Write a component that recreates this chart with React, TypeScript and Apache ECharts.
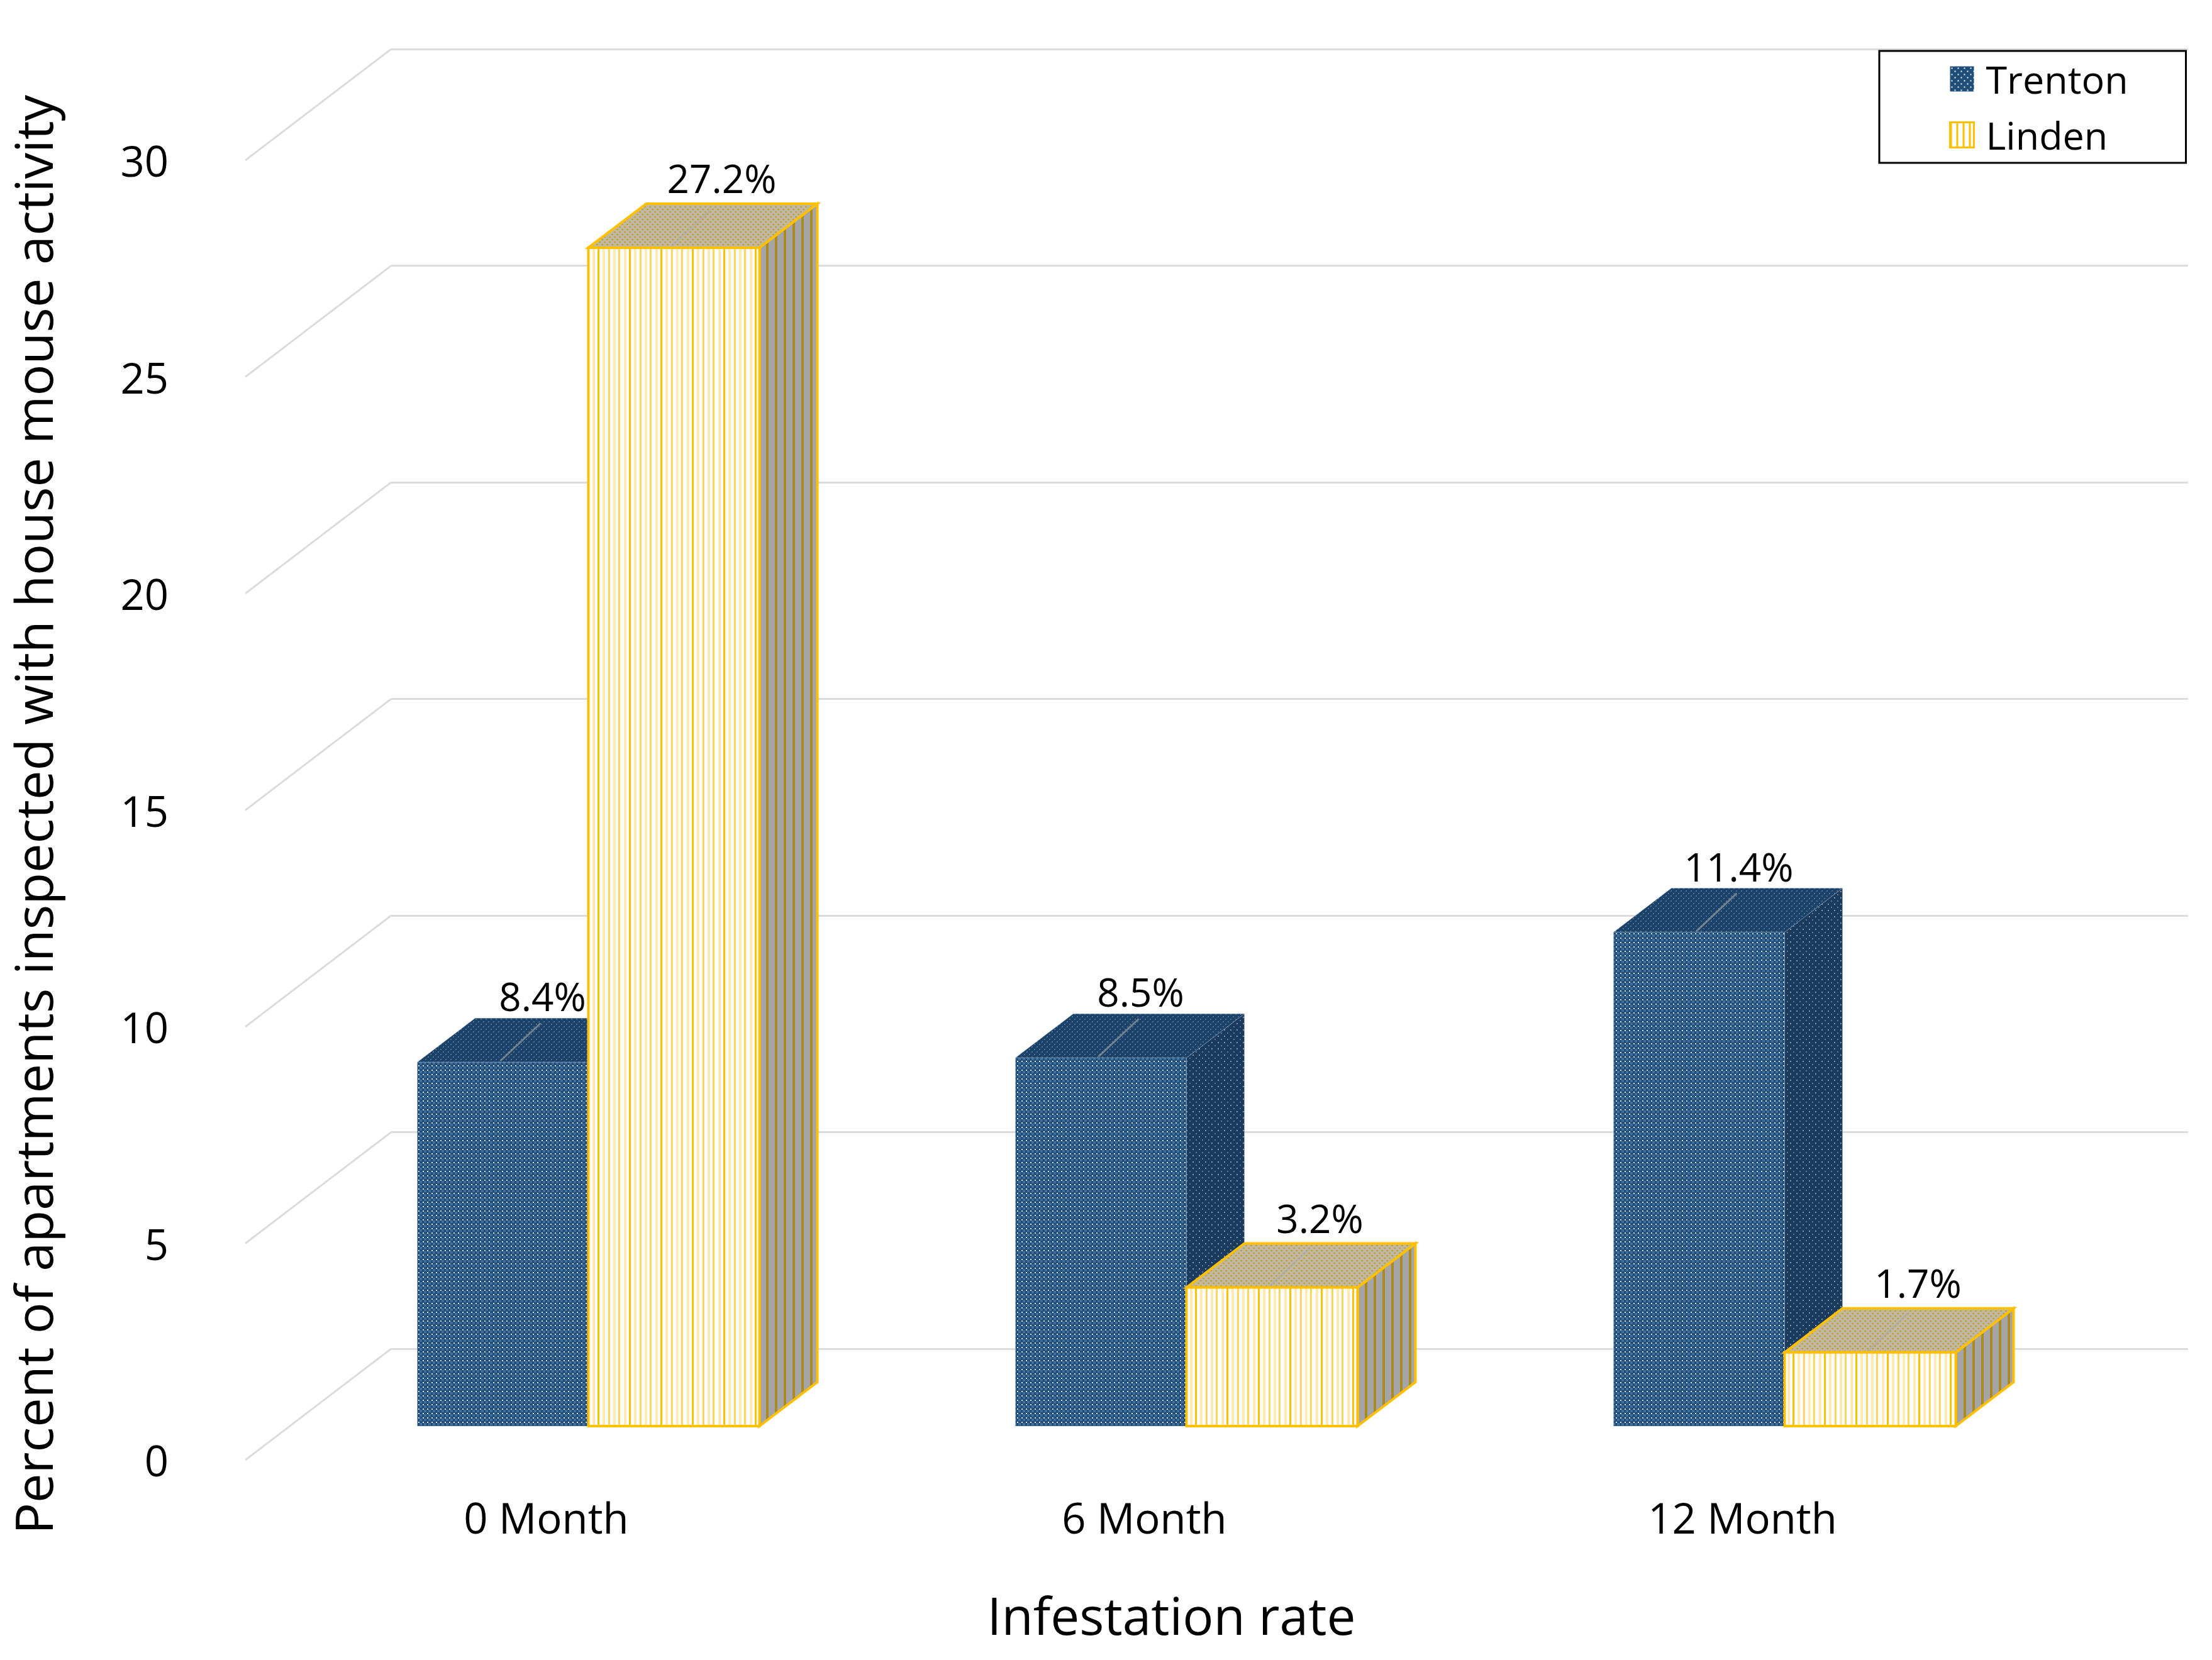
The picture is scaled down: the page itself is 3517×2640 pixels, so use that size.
import React, { useEffect, useRef } from "react";
import * as echarts from "echarts";

const categories = ["0 Month", "6 Month", "12 Month"];
const trenton = [8.4, 8.5, 11.4];
const linden = [27.2, 3.2, 1.7];
const yTicks = [0, 5, 10, 15, 20, 25, 30];
const xTitle = "Infestation rate";
const yTitle = "Percent of apartments inspected with house mouse activity";

const FONT = '"Open Sans", "Noto Sans", sans-serif';
const BAR_W = 272;
const DX = 92;
const DY = 70;

function tile(w: number, h: number, draw: (c: CanvasRenderingContext2D) => void) {
  const cv = document.createElement("canvas");
  cv.width = w;
  cv.height = h;
  const c = cv.getContext("2d")!;
  draw(c);
  return { image: cv, repeat: "repeat", imageWidth: w, imageHeight: h } as any;
}

function buildPatterns() {
  const blueFront = tile(14, 14, (c) => {
    c.fillStyle = "#1F4E7C";
    c.fillRect(0, 0, 14, 14);
    c.fillStyle = "#426E97";
    for (let y = 0; y < 14; y += 7) {
      for (let x = 0; x < 14; x += 7) {
        c.fillRect(x + 2, y + 2, 4, 4);
      }
    }
    c.fillStyle = "#DCE6F0";
    for (let y = 0; y < 14; y += 7) {
      for (let x = 0; x < 14; x += 7) {
        c.fillRect(x, y, 2, 2);
      }
    }
  });
  const blueTop = tile(8, 8, (c) => {
    c.fillStyle = "#1B4268";
    c.fillRect(0, 0, 8, 8);
    c.fillStyle = "#4F7090";
    c.fillRect(0, 0, 2, 2);
    c.fillRect(4, 4, 2, 2);
  });
  const blueSide = tile(10, 10, (c) => {
    c.fillStyle = "#1A3B5E";
    c.fillRect(0, 0, 10, 10);
    c.fillStyle = "#5D7890";
    c.fillRect(1, 2, 2, 2);
    c.fillStyle = "#8495A6";
    c.fillRect(6, 7, 2, 2);
  });
  const goldFront = tile(50, 10, (c) => {
    c.fillStyle = "#FFFFFF";
    c.fillRect(0, 0, 50, 10);
    const cols = ["#FFC000", "#FFEBB0", "#FFD65C", "#FFEBB0", "#FFD65C", "#FFEBB0"];
    cols.forEach((col, i) => {
      c.fillStyle = col;
      c.fillRect(Math.round(i * 8.33), 0, i % 2 ? 4 : 3, 10);
    });
  });
  const goldTop = tile(8, 8, (c) => {
    c.fillStyle = "#BFB8A2";
    c.fillRect(0, 0, 8, 8);
    c.fillStyle = "#C8A032";
    c.fillRect(0, 0, 3, 2);
    c.fillRect(4, 4, 3, 2);
  });
  const goldSide = tile(14, 10, (c) => {
    c.fillStyle = "#A5A5A5";
    c.fillRect(0, 0, 14, 10);
    c.fillStyle = "#AA8A26";
    c.fillRect(0, 0, 4, 10);
  });
  const legendBlue = tile(10, 10, (c) => {
    c.fillStyle = "#1F4E79";
    c.fillRect(0, 0, 10, 10);
    c.fillStyle = "#FFFFFF";
    c.fillRect(2, 2, 2, 2);
    c.fillRect(7, 7, 2, 2);
  });
  const legendGold = tile(10, 10, (c) => {
    c.fillStyle = "#FFFFFF";
    c.fillRect(0, 0, 10, 10);
    c.fillStyle = "#FFC000";
    c.fillRect(0, 0, 3, 10);
  });
  return { blueFront, blueTop, blueSide, goldFront, goldTop, goldSide, legendBlue, legendGold };
}

function barSeries(
  name: string,
  values: number[],
  offset: number,
  front: any,
  top: any,
  side: any,
  stroke: string,
  strokeWidth: number,
  labelDx: number,
  labelDy: number
) {
  return {
    name,
    type: "custom",
    xAxisIndex: 1,
    yAxisIndex: 1,
    coordinateSystem: "cartesian2d",
    silent: true,
    z: 5,
    itemStyle: { color: front, borderColor: stroke },
    encode: { x: 0, y: 1 },
    data: values.map((v, i) => [i, v]),
    renderItem: (_p: any, api: any) => {
      const idx = api.value(0);
      const val = api.value(1);
      const [cx, yTop] = api.coord([idx, val]);
      const [, yBase] = api.coord([idx, 0]);
      const x0 = cx + offset;
      const x1 = x0 + BAR_W;
      const line = { stroke, lineWidth: strokeWidth };
      return {
        type: "group",
        children: [
          {
            type: "polygon",
            shape: { points: [[x1, yBase], [x1 + DX, yBase - DY], [x1 + DX, yTop - DY], [x1, yTop]] },
            style: { fill: side, ...line },
          },
          {
            type: "polygon",
            shape: { points: [[x0, yTop], [x0 + DX, yTop - DY], [x1 + DX, yTop - DY], [x1, yTop]] },
            style: { fill: top, ...line },
          },
          {
            type: "line",
            shape: { x1: x0 + BAR_W / 2 - 4, y1: yTop - 2, x2: x0 + BAR_W / 2 + 60, y2: yTop - 62 },
            style: { stroke: "rgba(170,170,170,0.6)", lineWidth: 3 },
          },
          {
            type: "rect",
            shape: { x: x0, y: yTop, width: BAR_W, height: yBase - yTop },
            style: { fill: front, ...line },
          },
          {
            type: "text",
            z2: 50,
            style: {
              text: `${val.toFixed(1)}%`,
              x: x0 + BAR_W / 2 + labelDx,
              y: yTop + labelDy,
              fill: "#000000",
              font: `62px ${FONT}`,
              align: "center",
              verticalAlign: "middle",
            },
          },
        ],
      };
    },
  };
}

export default function App() {
  const ref = useRef<HTMLDivElement>(null);
  useEffect(() => {
    document.body.style.margin = "0";
    const chart = echarts.init(ref.current!, undefined, { renderer: "svg" });
    const p = buildPatterns();
    const hiddenAxis = { show: false };
    chart.setOption({
      animation: false,
      backgroundColor: "#FFFFFF",
      textStyle: { fontFamily: FONT },
      grid: [
        { left: 393, width: 2853, top: 255, height: 2067, outerBoundsMode: "none" },
        { left: 462, width: 2853, top: 201, height: 2067, outerBoundsMode: "none" },
        { left: 622, width: 2857, top: 78, height: 2067, outerBoundsMode: "none" },
      ],
      legend: {
        orient: "vertical",
        left: 2988,
        top: 81,
        padding: [14, 92, 14, 111],
        itemGap: 28,
        itemWidth: 38,
        itemHeight: 40,
        itemStyle: { borderWidth: 0 },
        backgroundColor: "#FFFFFF",
        borderColor: "#000000",
        borderWidth: 3,
        textStyle: { fontSize: 61, color: "#000000", fontFamily: FONT, padding: [0, 0, 0, 14] },
        data: [
          { name: "Trenton", icon: "rect", itemStyle: { color: p.legendBlue, borderWidth: 0 } },
          { name: "Linden", icon: "rect", itemStyle: { color: p.legendGold, borderColor: "#FFC000", borderWidth: 3 } },
        ],
      },
      xAxis: [
        {
          gridIndex: 0,
          type: "category",
          data: categories,
          axisLine: { show: false },
          axisTick: { show: false },
          axisLabel: { fontSize: 67, color: "#000000", margin: 57, fontFamily: FONT },
          name: xTitle,
          nameLocation: "middle",
          nameGap: 205,
          nameTextStyle: { fontSize: 82, color: "#000000", fontFamily: FONT, padding: [0, 0, 0, 86] },
        },
        { gridIndex: 1, type: "category", data: categories, ...hiddenAxis },
        { gridIndex: 2, type: "value", min: 0, max: 1, ...hiddenAxis },
      ],
      yAxis: [
        {
          gridIndex: 0,
          type: "value",
          min: 0,
          max: 30,
          interval: 5,
          axisLine: { show: false },
          axisTick: { show: false },
          splitLine: { show: false },
          axisLabel: { fontSize: 67, color: "#000000", margin: 125, fontFamily: FONT },
          name: yTitle,
          nameLocation: "middle",
          nameGap: 300,
          nameRotate: 90,
          nameTextStyle: { fontSize: 83, color: "#000000", fontFamily: FONT, padding: [0, 14, 0, 0] },
        },
        { gridIndex: 1, type: "value", min: 0, max: 30, interval: 5, ...hiddenAxis },
        {
          gridIndex: 2,
          type: "value",
          min: 0,
          max: 30,
          interval: 5,
          axisLine: { show: false },
          axisTick: { show: false },
          axisLabel: { show: false },
          splitLine: { show: true, lineStyle: { color: "#DCDCDC", width: 3 } },
        },
      ],
      series: [
        {
          name: "wall",
          type: "custom",
          xAxisIndex: 0,
          yAxisIndex: 0,
          silent: true,
          z: 1,
          encode: { x: 0, y: 1 },
          data: yTicks.map((v) => [0, v]),
          renderItem: (params: any, api: any) => {
            const [, y] = api.coord([0, api.value(1)]);
            const x = params.coordSys.x - 3;
            return {
              type: "line",
              shape: { x1: x, y1: y, x2: x + 232, y2: y - 177 },
              style: { stroke: "#DCDCDC", lineWidth: 3 },
            };
          },
        },
        barSeries("Trenton", trenton, -274, p.blueFront, p.blueTop, p.blueSide, "rgba(175,195,215,0.3)", 1, 63, -105),
        barSeries("Linden", linden, -2, p.goldFront, p.goldTop, p.goldSide, "#FFC000", 4, 76, -111),
      ],
    });
    return () => chart.dispose();
  }, []);
  return <div ref={ref} style={{ position: "absolute", left: 0, top: 0, width: 3517, height: 2640 }} />;
}
